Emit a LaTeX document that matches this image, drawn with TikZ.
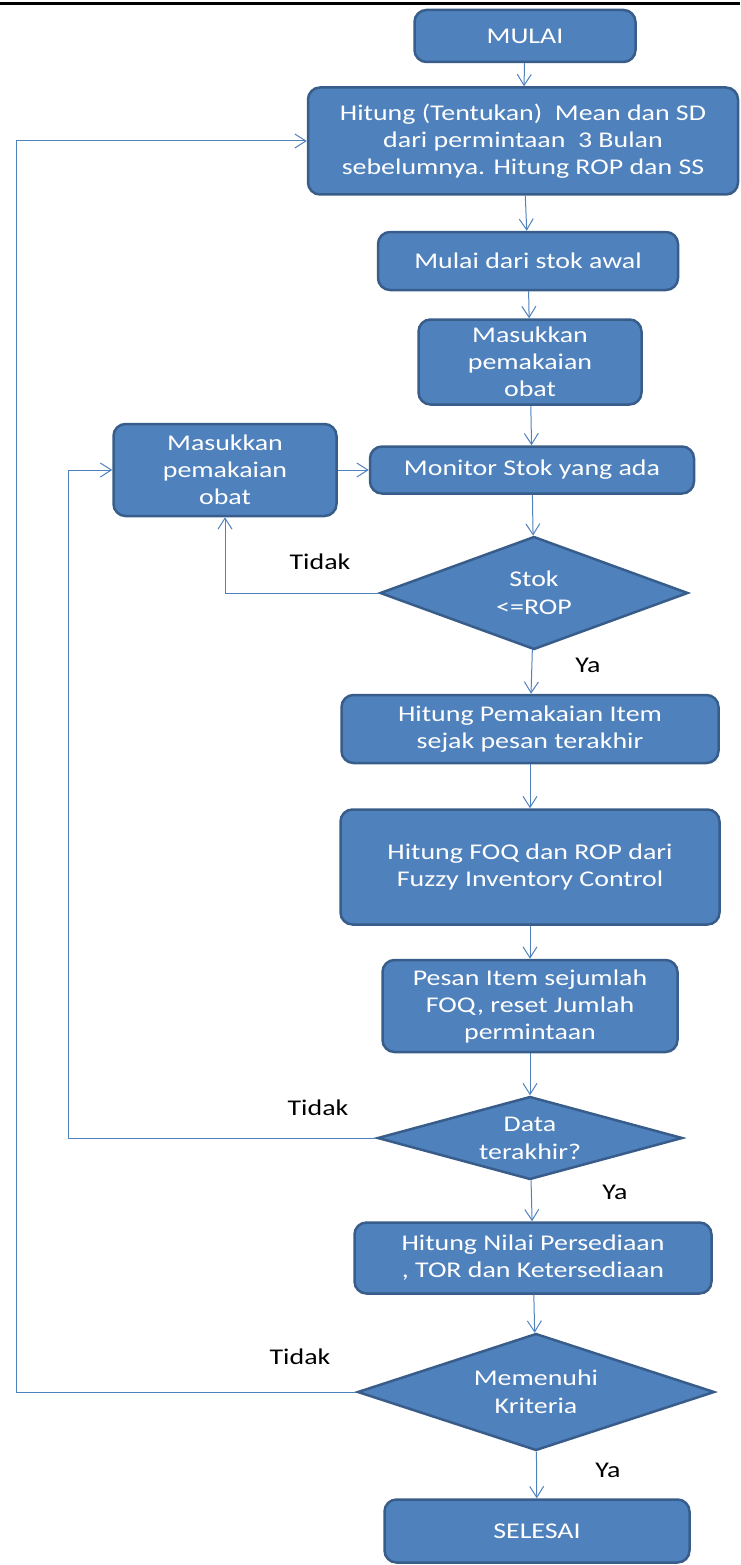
\documentclass[tikz,border=0pt]{standalone}
\usepackage{fontspec}
\setmainfont[FakeStretch=1.24]{Carlito}
\usetikzlibrary{shapes.geometric,arrows.meta,positioning}
\definecolor{boxblue}{RGB}{79,129,189}
\definecolor{boxedge}{RGB}{56,93,138}
\definecolor{lineblue}{RGB}{79,129,189}
\tikzset{
  procbox/.style={rectangle,rounded corners=12pt,draw=boxedge,line width=2.5pt,
    fill=boxblue,text=white,align=center,inner sep=2pt,
    font=\fontsize{22.5}{27}\selectfont},
  decbox/.style={diamond,draw=boxedge,line width=2.5pt,fill=boxblue,text=white,
    align=center,inner sep=0pt,font=\fontsize{22.5}{28}\selectfont},
  flow/.style={draw=lineblue,line width=1pt,-{Straight Barb[length=11pt,width=14pt]}},
  answer/.style={text=black,font=\fontsize{22.5}{27}\selectfont}
}
\begin{document}
\begin{tikzpicture}[x=1pt,y=-1pt]
  \useasboundingbox (0,0) rectangle (740,1565);
  \draw[line width=3pt] (0,4) -- (740,4);

  % main column
  \path (525,36) node[procbox,minimum width=221,minimum height=52] (mulai) {MULAI};
  \path (523,141) node[procbox,minimum width=430,minimum height=107] (hitung)
    {Hitung (Tentukan)\ \ Mean dan SD\\dari permintaan\ \ 3 Bulan\\sebelumnya. Hitung ROP dan SS};
  \path (528,261) node[procbox,minimum width=300,minimum height=58] (stokawal) {Mulai dari stok awal};
  \path (530,362) node[procbox,minimum width=223,minimum height=85] (masukA) {Masukkan\\pemakaian\\obat};
  \path (532,470) node[procbox,minimum width=324,minimum height=47] (monitor) {Monitor Stok yang ada};
  \path (534,593) node[decbox,aspect=2.7,minimum width=308,minimum height=113] (cekrop) {Stok\\<=ROP};
  \path (530,729) node[procbox,minimum width=377,minimum height=68] (pakai)
    {Hitung Pemakaian Item\\sejak pesan terakhir};
  \path (530,867) node[procbox,minimum width=379,minimum height=115] (foq)
    {Hitung FOQ dan ROP dari\\Fuzzy Inventory Control};
  \path (530,1006) node[procbox,minimum width=295,minimum height=92] (pesan)
    {Pesan Item sejumlah\\FOQ, reset Jumlah\\permintaan};
  \path (530,1138) node[decbox,aspect=3.8,minimum width=305,minimum height=83] (akhir) {Data\\terakhir?};
  \path (533,1258) node[procbox,minimum width=357,minimum height=71] (nilai)
    {Hitung Nilai Persediaan\\, TOR dan Ketersediaan};
  \path (536,1392) node[decbox,aspect=3.05,minimum width=357,minimum height=117] (kriteria) {Memenuhi\\Kriteria};
  \path (537,1531) node[procbox,minimum width=305,minimum height=63] (selesai) {SELESAI};

  % side box
  \path (225,470) node[procbox,minimum width=223,minimum height=92] (masukB) {Masukkan\\pemakaian\\obat};

  % loop columns
  \coordinate (kolomA) at (68,0);
  \coordinate (kolomB) at (16,0);

  % labels
  \path (320,562) node[answer] (tidakA) {Tidak};
  \path (588,665) node[answer] (yaA) {Ya};
  \path (318,1108) node[answer] (tidakB) {Tidak};
  \path (615,1192) node[answer] (yaB) {Ya};
  \path (300,1357) node[answer] (tidakC) {Tidak};
  \path (608,1470) node[answer] (yaC) {Ya};

  % connectors
  \draw[flow] (mulai) -- (hitung);
  \draw[flow] (hitung) -- (stokawal);
  \draw[flow] (stokawal) -- (masukA);
  \draw[flow] (masukA) -- (monitor);
  \draw[flow] (monitor) -- (cekrop);
  \draw[flow] (cekrop) -- (pakai);
  \draw[flow] (pakai) -- (foq);
  \draw[flow] (foq) -- (pesan);
  \draw[flow] (pesan) -- (akhir);
  \draw[flow] (akhir) -- (nilai);
  \draw[flow] (nilai) -- (kriteria);
  \draw[flow] (kriteria) -- (selesai);
  \draw[flow] (cekrop.west) -| (masukB.south);
  \draw[flow] (masukB.east) -- (monitor.west);
  \draw[flow] (akhir.west) -- (akhir.west -| kolomA) |- (masukB.west);
  \draw[flow] (kriteria.west) -- (kriteria.west -| kolomB) |- (hitung.west);
\end{tikzpicture}
\end{document}
